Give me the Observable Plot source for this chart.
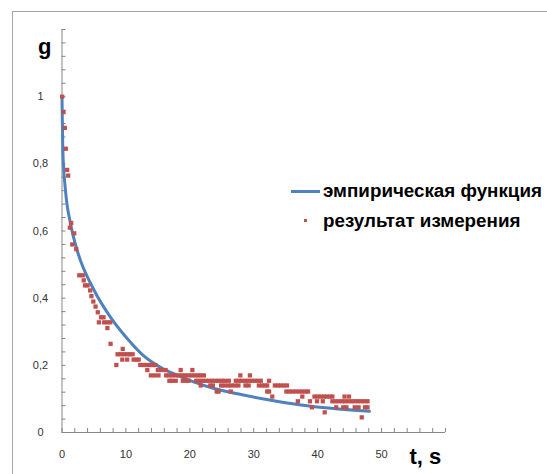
<!DOCTYPE html>
<html>
<head>
<meta charset="utf-8">
<script src="https://cdn.jsdelivr.net/npm/d3@7"></script>
<script src="https://cdn.jsdelivr.net/npm/@observablehq/plot@0.6"></script>
<style>
html, body { margin: 0; padding: 0; background: #fff; width: 547px; height: 474px; overflow: hidden; }
#wrap { position: relative; width: 547px; height: 474px; }
#frame { position: absolute; left: 12px; top: 11px; width: 700px; height: 700px; border-left: 1px solid #a6a6a6; border-top: 1px solid #a6a6a6; }
#chart { position: absolute; left: 0; top: 0; }
.legtext { position: absolute; font-family: "Liberation Sans", Arial, sans-serif; font-weight: bold; font-size: 18.8px; color: #000; white-space: nowrap; line-height: 1; transform: translateY(-50%); }
.swline { position: absolute; height: 3px; background: #4F81BD; }
.swdot { position: absolute; width: 3px; height: 3px; background: #C0504D; }
</style>
</head>
<body>
<div id="wrap">
  <div id="frame"></div>
  <div id="chart"></div>
  <div class="swline" style="left:291px; top:190px; width:29px;"></div>
  <div class="legtext" id="leg1" style="left:323px; top:191px;"></div>
  <div class="swdot" style="left:304px; top:219px;"></div>
  <div class="legtext" id="leg2" style="left:323px; top:221px;"></div>
</div>
<script>
// ---- labels ----
const yAxisTitle = "g";
const xAxisTitle = "t, s";
const seriesNames = ["эмпирическая функция", "результат измерения"];

// ---- tick values / labels ----
const xTickValues = [0, 10, 20, 30, 40, 50];
const xTickLabels = ["0", "10", "20", "30", "40", "50"];
const yTickValues = [0, 0.2, 0.4, 0.6, 0.8, 1];
const yTickLabels = ["0", "0,2", "0,4", "0,6", "0,8", "1"];

const empirical = [
  [0, 1.0], [0.03, 0.955], [0.13, 0.84], [0.55, 0.72], [1.33, 0.622], [2.38, 0.542],
  [4.98, 0.425], [7.6, 0.343], [10.2, 0.28], [12.8, 0.228], [15.4, 0.194], [18.1, 0.17],
  [20.7, 0.15], [23.8, 0.131], [28.0, 0.113], [32.7, 0.096], [37.4, 0.082], [42.1, 0.072],
  [48.1, 0.063]
];

const measured = [
  [0.03, 1.0], [0.24, 0.954], [0.44, 0.907], [0.6, 0.845], [0.81, 0.782], [0.97, 0.765],
  [1.44, 0.624], [1.22, 0.61], [1.91, 0.593], [1.6, 0.56], [2.23, 0.546],
  [2.7, 0.468], [3.25, 0.468], [3.4, 0.453], [3.6, 0.438], [4.0, 0.438],
  [4.4, 0.423], [4.6, 0.406], [4.9, 0.39], [5.25, 0.375], [5.6, 0.358],
  [6.1, 0.343], [6.5, 0.343], [5.77, 0.328], [6.6, 0.328], [7.1, 0.328], [7.55, 0.328],
  [7.1, 0.311], [7.6, 0.264], [9.5, 0.249],
  [8.7, 0.233], [9.2, 0.233], [9.7, 0.233], [10.2, 0.233], [10.6, 0.233], [11.05, 0.233],
  [9.43, 0.217], [10.2, 0.217], [11.2, 0.217], [11.6, 0.217], [12.0, 0.217],
  [8.5, 0.201], [12.25, 0.201], [12.75, 0.201], [13.25, 0.201], [13.75, 0.201], [14.2, 0.201], [14.6, 0.201],
  [13.35, 0.186], [15.0, 0.186], [15.6, 0.186], [16.2, 0.186], [18.57, 0.186], [20.4, 0.186],
  [13.9, 0.17], [14.5, 0.17], [15.1, 0.17], [16.3, 0.17], [16.8, 0.17], [17.3, 0.17], [17.8, 0.17],
  [18.3, 0.17], [18.8, 0.17], [19.3, 0.17], [19.8, 0.17], [20.3, 0.17], [20.8, 0.17], [21.3, 0.17],
  [21.7, 0.17], [22.2, 0.17], [27.9, 0.17], [29.4, 0.17],
  [16.8, 0.154], [17.2, 0.154], [17.8, 0.154], [18.9, 0.154], [19.4, 0.154], [19.8, 0.154],
  [21.0, 0.154], [21.5, 0.154], [22.0, 0.154], [22.5, 0.154], [23.0, 0.154], [23.5, 0.154],
  [24.0, 0.154], [24.5, 0.154], [25.0, 0.154], [25.5, 0.154], [26.1, 0.154],
  [27.2, 0.154], [27.7, 0.154], [28.2, 0.154], [28.7, 0.154], [29.2, 0.154], [29.7, 0.154],
  [30.2, 0.154], [30.6, 0.154], [31.1, 0.154], [32.4, 0.154],
  [21.7, 0.14], [23.2, 0.14], [23.6, 0.14], [24.9, 0.14], [25.45, 0.14], [26.0, 0.14], [26.5, 0.14],
  [27.05, 0.14], [27.6, 0.14], [28.7, 0.14], [29.2, 0.14], [30.8, 0.14], [31.3, 0.14], [31.7, 0.14],
  [32.1, 0.14], [33.3, 0.14], [33.8, 0.14], [34.2, 0.14], [34.7, 0.14], [35.2, 0.14],
  [24.2, 0.122], [24.5, 0.122], [26.4, 0.122], [32.1, 0.122], [32.4, 0.122],
  [35.1, 0.122], [35.6, 0.122], [36.1, 0.122], [36.6, 0.122], [37.1, 0.122], [37.6, 0.122],
  [38.1, 0.122], [38.5, 0.122],
  [32.9, 0.107], [37.6, 0.107], [39.5, 0.107], [40.0, 0.107], [40.5, 0.107], [41.0, 0.107],
  [41.4, 0.107], [41.9, 0.107], [42.3, 0.107], [44.2, 0.107], [44.9, 0.107],
  [36.9, 0.093], [38.8, 0.093], [39.9, 0.093], [40.8, 0.093], [42.3, 0.093], [42.8, 0.093],
  [43.3, 0.093], [43.8, 0.093], [44.3, 0.093], [44.8, 0.093], [45.3, 0.093], [45.8, 0.093],
  [46.3, 0.093], [46.8, 0.093], [47.3, 0.093], [47.8, 0.093],
  [39.1, 0.075], [42.9, 0.075], [44.0, 0.075], [44.5, 0.075], [45.8, 0.075], [46.4, 0.075],
  [47.4, 0.075], [47.8, 0.075],
  [41.1, 0.06], [46.9, 0.045]
];

const lineColor = "#4F81BD";
const dotColor = "#C0504D";
const axisGray = "#868686";

document.getElementById("leg1").textContent = seriesNames[0];
document.getElementById("leg2").textContent = seriesNames[1];

const chart = Plot.plot({
  width: 547,
  height: 474,
  marginLeft: 61.5,
  marginRight: 102,
  marginTop: 29,
  marginBottom: 42,
  x: {domain: [0, 60]},
  y: {domain: [0, 1.2]},
  style: {fontFamily: "'Liberation Sans', Arial, sans-serif", fontSize: "11px", color: "#333", background: "transparent", overflow: "visible"},
  marks: [
    Plot.ruleX([0], {stroke: axisGray}),
    Plot.ruleY([0], {stroke: axisGray}),
    Plot.axisX(d3.range(0, 61, 2), {tickSize: -4, stroke: axisGray, tickFormat: () => "", label: null}),
    Plot.axisY(d3.range(0, 1.2001, 0.04), {tickSize: -4, stroke: axisGray, tickFormat: () => "", label: null}),
    Plot.text(xTickValues, {x: d => d, frameAnchor: "bottom", dy: 25, text: (d, i) => xTickLabels[i], fill: "#333"}),
    Plot.text(yTickValues, {y: d => d, frameAnchor: "left", dx: -21.5, text: (d, i) => yTickLabels[i], textAnchor: "middle", fill: "#333"}),
    Plot.text([yAxisTitle], {frameAnchor: "top-left", dx: -24, dy: 24, lineAnchor: "bottom", fontSize: 22, fontWeight: "bold", fill: "#000"}),
    Plot.text([xAxisTitle], {frameAnchor: "bottom-right", dx: -36, dy: 31, lineAnchor: "bottom", textAnchor: "start", fontSize: 22, fontWeight: "bold", fill: "#000"}),
    Plot.line(empirical, {x: d => d[0], y: d => d[1], stroke: lineColor, strokeWidth: 3, curve: "monotone-x"}),
    Plot.dot(measured, {x: d => d[0], y: d => d[1], symbol: "square", r: 2.4, fill: dotColor, stroke: "none"})
  ]
});
document.getElementById("chart").appendChild(chart);
</script>
</body>
</html>
